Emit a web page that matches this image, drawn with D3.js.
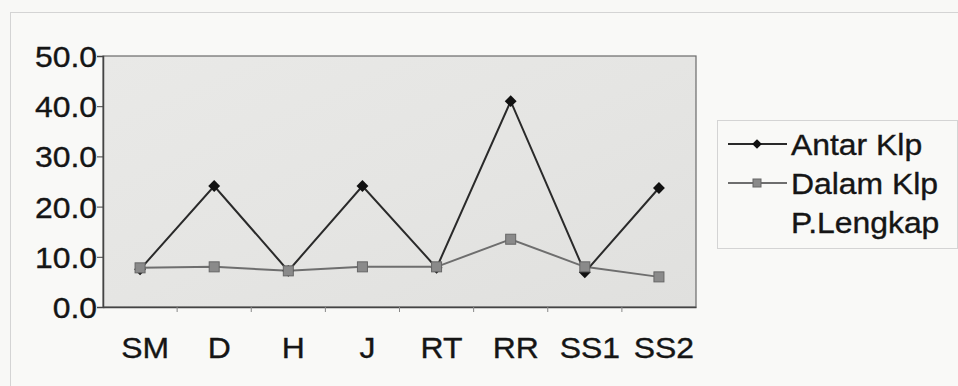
<!DOCTYPE html>
<html><head><meta charset="utf-8">
<script src="https://cdn.jsdelivr.net/npm/d3@7"></script>
<style>
html,body{margin:0;padding:0;background:#f8f8f6;}
svg{display:block;}
text{font-family:"Liberation Sans",Arial,sans-serif;fill:#151515;stroke:#151515;stroke-width:0.35px;}
</style></head>
<body>
<svg id="c" width="958" height="386"></svg>
<script>
const categories = ["SM","D","H","J","RT","RR","SS1","SS2"];
const antarKlp = [7.5, 24.1, 7.2, 24.1, 7.8, 41.0, 6.9, 23.7];
const dalamKlp = [7.8, 8.0, 7.2, 8.0, 8.0, 13.5, 8.0, 6.0];
const yTicks = [0, 10, 20, 30, 40, 50];
const legendLabels = ["Antar Klp", "Dalam Klp", "P.Lengkap"];

const svg = d3.select("#c");
const L = 103, R = 696, T = 56, B = 307;
const fs = 29, sx = 1.1;

// outer frame
svg.append("rect").attr("x",10.5).attr("y",12.5).attr("width",960).attr("height",400)
  .attr("fill","#f9f9f7").attr("stroke","#d4d4d4");

const x = d3.scaleBand().domain(categories).range([L, R]).padding(0);
const y = d3.scaleLinear().domain([0, 50]).range([B, T]);

// plot background gradient
const defs = svg.append("defs");
const g1 = defs.append("linearGradient").attr("id","bg").attr("x1","0").attr("y1","0").attr("x2","1").attr("y2","1");
g1.append("stop").attr("offset","0").attr("stop-color","#e9e9e7");
g1.append("stop").attr("offset","0.5").attr("stop-color","#e5e5e3");
g1.append("stop").attr("offset","1").attr("stop-color","#e0e0de");
svg.append("rect").attr("x",L).attr("y",T).attr("width",R-L).attr("height",B-T)
  .attr("fill","url(#bg)").attr("stroke","#6a6a6a").attr("stroke-width",1.2);

// axes
const yAxis = d3.axisLeft(y).tickValues(yTicks).tickSize(6).tickFormat(d3.format(".1f"));
const ya = svg.append("g").attr("transform",`translate(${L},0)`).call(yAxis);
ya.select(".domain").attr("stroke","#444").attr("stroke-width",1.5);
ya.selectAll(".tick line").attr("stroke","#444");
ya.selectAll(".tick text").each(function(d){
  const t = d3.select(this);
  t.attr("x",null).attr("dy",null).attr("font-size",fs).attr("text-anchor","end")
   .attr("dominant-baseline","central")
   .attr("transform",`translate(-6,0) scale(${sx},1)`);
});
ya.attr("font-family",null);

const xAxis = d3.axisBottom(x).tickSize(0).tickSizeOuter(0);
const xa = svg.append("g").attr("transform",`translate(0,${B})`).call(xAxis);
xa.select(".domain").attr("stroke","#444").attr("stroke-width",1.5);
xa.selectAll(".tick text").each(function(){
  d3.select(this).attr("y",null).attr("dy",null).attr("font-size",fs).attr("text-anchor","middle")
    .attr("transform",`translate(5,51) scale(${sx},1)`);
});
xa.attr("font-family",null);
// boundary tick marks between categories
xa.selectAll(".bt").data(categories.slice(1)).enter().append("line")
  .attr("x1",d=>x(d)).attr("x2",d=>x(d)).attr("y1",0).attr("y2",5).attr("stroke","#888");

const cx = d => x(d) + x.bandwidth()/2;
const line = d3.line().x(d=>cx(d[0])).y(d=>y(d[1]));

// Dalam Klp
const dalam = categories.map((c,i)=>[c, dalamKlp[i]]);
svg.append("path").attr("d",line(dalam)).attr("fill","none").attr("stroke","#6e6e6e").attr("stroke-width",2);
// Antar Klp
const antar = categories.map((c,i)=>[c, antarKlp[i]]);
svg.append("path").attr("d",line(antar)).attr("fill","none").attr("stroke","#2a2a2a").attr("stroke-width",2);

const diamond = d3.symbol().type(d3.symbolDiamond2).size(90);
svg.selectAll(".am").data(antar).enter().append("path")
  .attr("d",diamond).attr("transform",d=>`translate(${cx(d[0])},${y(d[1])})`)
  .attr("fill","#111");
svg.selectAll(".dm").data(dalam).enter().append("rect")
  .attr("x",d=>cx(d[0])-5).attr("y",d=>y(d[1])-5).attr("width",10).attr("height",10)
  .attr("fill","#8a8a8a").attr("stroke","#666").attr("stroke-width",1);

// legend
svg.append("rect").attr("x",717.5).attr("y",120.5).attr("width",240).attr("height",128)
  .attr("fill","#f9f9f7").attr("stroke","#d4d4d4");
const ly = [144, 183, 222];
legendLabels.forEach((lab,i)=>{
  svg.append("text").attr("font-size",fs)
    .attr("transform",`translate(791,${ly[i]+11}) scale(${sx},1)`).text(lab);
});
svg.append("line").attr("x1",728).attr("x2",787).attr("y1",ly[0]).attr("y2",ly[0]).attr("stroke","#2a2a2a").attr("stroke-width",2);
svg.append("path").attr("d",d3.symbol().type(d3.symbolDiamond2).size(60)).attr("transform",`translate(757,${ly[0]})`).attr("fill","#111");
svg.append("line").attr("x1",728).attr("x2",787).attr("y1",ly[1]).attr("y2",ly[1]).attr("stroke","#6e6e6e").attr("stroke-width",2);
svg.append("rect").attr("x",753).attr("y",ly[1]-4).attr("width",8).attr("height",8)
  .attr("fill","#8a8a8a").attr("stroke","#666");
</script>
</body></html>
